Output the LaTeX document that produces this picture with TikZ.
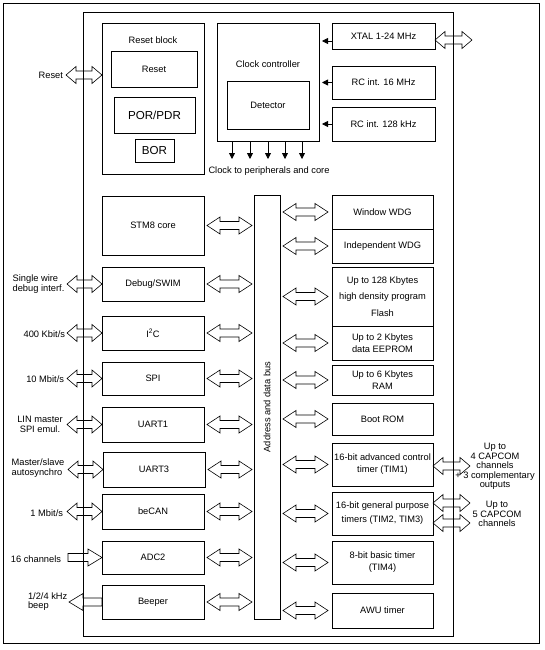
\documentclass[tikz,border=0pt]{standalone}
\usepackage{fontspec}
\setmainfont{Liberation Sans}
\usetikzlibrary{arrows.meta,calc}
\tikzset{
  blk/.style={draw, line width=0.75pt, inner sep=1pt, outer sep=0pt, align=center,
              font=\fontsize{9.3}{11.5}\selectfont},
  lbl/.style={inner sep=0pt, outer sep=0pt, align=center, font=\fontsize{9.3}{9.6}\selectfont},
  barr/.style={draw, line width=0.6pt, line join=miter},
  frame/.style={draw, line width=0.75pt},
  tinyarr/.style={line width=0.8pt, -{Triangle[width=6pt,length=6pt]}},
}
% block: [opts]{name}{x1}{y1}{x2}{y2}{text}
\newcommand\blkk[7][]{\node[blk,#1,minimum width={(#5-#3)*1pt},minimum height={(#6-#4)*1pt}] (#2) at ({(#3+#5)/2},{(#4+#6)/2}) {#7};}
% double block arrow: [head length]{left point}{right point}
\newcommand\dblarr[3][12]{%
  \draw[barr] let \p1=(#2), \p2=(#3) in
  (\x1,\y1) -- ++(#1pt,8.5pt) -- ++(0,-4.5pt) -- (\x2-#1pt,\y1+4pt) -- ++(0,4.5pt)
  -- (\x2,\y1) -- ++(-#1pt,-8.5pt) -- ++(0,4.5pt) -- (\x1+#1pt,\y1-4pt) -- ++(0,-4.5pt) -- cycle;}
% right pointing block arrow: [head]{tail}{tip}
\newcommand\rarr[3][14]{%
  \draw[barr] let \p1=(#2), \p2=(#3) in
  (\x1,\y1+4pt) -- (\x2-#1pt,\y1+4pt) -- ++(0,4.5pt) -- (\x2,\y1) -- ++(-#1pt,-8.5pt)
  -- ++(0,4.5pt) -- (\x1,\y1-4pt) -- cycle;}
% left pointing block arrow: [head]{tip}{tail}
\newcommand\larr[3][14]{%
  \draw[barr] let \p1=(#2), \p2=(#3) in
  (\x1,\y1) -- ++(#1pt,8.5pt) -- ++(0,-4.5pt) -- (\x2,\y1+4pt) -- (\x2,\y1-4pt)
  -- (\x1+#1pt,\y1-4pt) -- ++(0,-4.5pt) -- cycle;}
\begin{document}
\begin{tikzpicture}[x=1pt,y=-1pt]
\useasboundingbox (0,0) rectangle (545,650);
\draw[frame] (3,3) rectangle (539,643);
\draw[frame] (83,12) rectangle (453,636);

% reset block
\blkk{resetblk}{102}{23}{204}{174}{}
\node[lbl] (rbl) at (153,40) {Reset block};
\blkk{rst}{111}{51}{197}{87}{Reset}
\blkk[font=\fontsize{11.6}{13}\selectfont]{por}{114}{97}{195}{133}{POR/PDR}
\blkk[font=\fontsize{11.6}{13}\selectfont]{bor}{135}{139}{174}{162}{BOR}

% clock
\blkk{clk}{217}{23}{319}{141}{}
\node[lbl] (clkl) at (268,64) {Clock controller};
\blkk{det}{227}{81}{309}{129}{Detector}
\blkk{xtal}{332}{23}{435}{49}{XTAL 1-24 MHz}
\blkk{rc16}{332}{66}{435}{99}{RC int. 16 MHz}
\blkk{rc128}{332}{107}{435}{141}{RC int. 128 kHz}
\coordinate (cx) at (319,41);
\draw[tinyarr] (xtal.west |- cx) -- (322,41);
\draw[tinyarr] (rc16.west) -- ++(-10,0);
\draw[tinyarr] (rc128.west) -- ++(-10,0);
\foreach \i/\xx in {1/232,2/250,3/268,4/285,5/302}{
  \coordinate (ck\i) at (\xx,159);
  \draw[tinyarr] (clk.south -| ck\i) -- (ck\i);
}
\node[lbl] (clkt) at (269,171) {Clock to peripherals and core};

% bus
\blkk{bus}{254}{195}{280}{619}{}
\node[lbl, rotate=90] (busl) at (bus.center) {Address and data bus};

% left blocks
\blkk{stm}{102}{196}{204}{255}{STM8 core}
\blkk{dbg}{102}{267}{204}{301}{Debug/SWIM}
\blkk{iic}{102}{316}{204}{350}{I\textsuperscript{2}C}
\blkk{spi}{102}{362}{204}{395}{SPI}
\blkk{ua1}{102}{407}{204}{442}{UART1}
\blkk{ua3}{103}{452}{205}{487}{UART3}
\blkk{can}{102}{494}{204}{529}{beCAN}
\blkk{adc}{102}{541}{204}{574}{ADC2}
\blkk{bee}{102}{585}{204}{619}{Beeper}

% right blocks
\blkk{wwdg}{332}{195}{433}{229}{Window WDG}
\blkk{iwdg}{332}{229}{433}{263}{Independent WDG}
\blkk[font=\fontsize{9.3}{16.5}\selectfont]{flash}{332}{267}{433}{326}{Up to 128 Kbytes\\high density program\\Flash}
\blkk[font=\fontsize{9.3}{12}\selectfont]{eep}{332}{326}{433}{360}{Up to 2 Kbytes\\data EEPROM}
\blkk[font=\fontsize{9.3}{12}\selectfont]{ram}{332}{365}{433}{395}{Up to 6 Kbytes\\RAM}
\blkk{boot}{332}{403}{433}{435}{Boot ROM}
\blkk[font=\fontsize{9.3}{12}\selectfont]{tim1}{332}{443}{433}{486}{16-bit advanced control\\timer (TIM1)}
\blkk[font=\fontsize{9.3}{14}\selectfont]{tim23}{332}{492}{433}{535}{16-bit general purpose\\timers (TIM2, TIM3)}
\blkk[font=\fontsize{9.3}{12}\selectfont]{tim4}{332}{541}{433}{584}{8-bit basic timer\\(TIM4)}
\blkk{awu}{332}{593}{433}{628}{AWU timer}

% bus arrows, left side
\foreach \b in {stm,dbg,iic,spi,ua1,ua3,can,adc,bee}{
  \dblarr[13]{$(\b.east)+(3,0)$}{$(bus.west |- \b.east)+(-2,0)$}
}
% bus arrows, right side
\foreach \b in {wwdg,iwdg,flash,eep,ram,boot,tim1,tim23,tim4,awu}{
  \dblarr[13]{$(bus.east |- \b.west)+(3,0)$}{$(\b.west)+(-4,0)$}
}

% pins left
\coordinate (rstpin) at (66,75);
\dblarr[10]{rstpin}{resetblk.west |- rstpin}
\foreach \b in {dbg,iic,spi,ua1,ua3,can}{
  \coordinate (\b pin) at ($(\b.west)+(-35,0)$);
  \dblarr[10]{\b pin}{\b.west}
}
\coordinate (adcpin) at ($(adc.west)+(-34,0)$);
\rarr[14]{adcpin}{adc.west}
\coordinate (beepin) at ($(bee.west)+(-33,0)$);
\larr[14]{beepin}{bee.west}

% pins right
\coordinate (xtalpin) at (472,40);
\dblarr[10]{xtal.east |- xtalpin}{xtalpin}
\coordinate (t1pin) at (470,466);
\dblarr[10]{tim1.east |- t1pin}{t1pin}
\coordinate (t2pin) at (470,503);
\dblarr[10]{tim23.east |- t2pin}{t2pin}
\coordinate (t3pin) at (470,523);
\dblarr[10]{tim23.east |- t3pin}{t3pin}

% pin labels
\node[lbl, anchor=east] (lrst) at (63,75) {Reset};
\node[lbl, align=left] (ldbg) at (38.5,284) {Single wire\\debug interf.};
\node[lbl, anchor=east] (liic) at (65,334) {400 Kbit/s};
\node[lbl, anchor=east] (lspi) at (64,379) {10 Mbit/s};
\node[lbl] (lua1) at (40,424.5) {LIN master\\SPI emul.};
\node[lbl, align=left] (lua3) at (38,468) {Master/slave\\autosynchro};
\node[lbl, anchor=east] (lcan) at (63,513) {1 Mbit/s};
\node[lbl, anchor=east] (ladc) at (61,559) {16 channels};
\node[lbl, anchor=west, align=left] (lbee) at (28,601.5) {1/2/4 kHz\\beep};
\node[lbl] (lt1) at (495,466.5) {Up to\\4 CAPCOM\\channels\\+ 3 complementary\\outputs};
\node[lbl] (lt23) at (497,514) {Up to\\5 CAPCOM\\channels};
\end{tikzpicture}
\end{document}
